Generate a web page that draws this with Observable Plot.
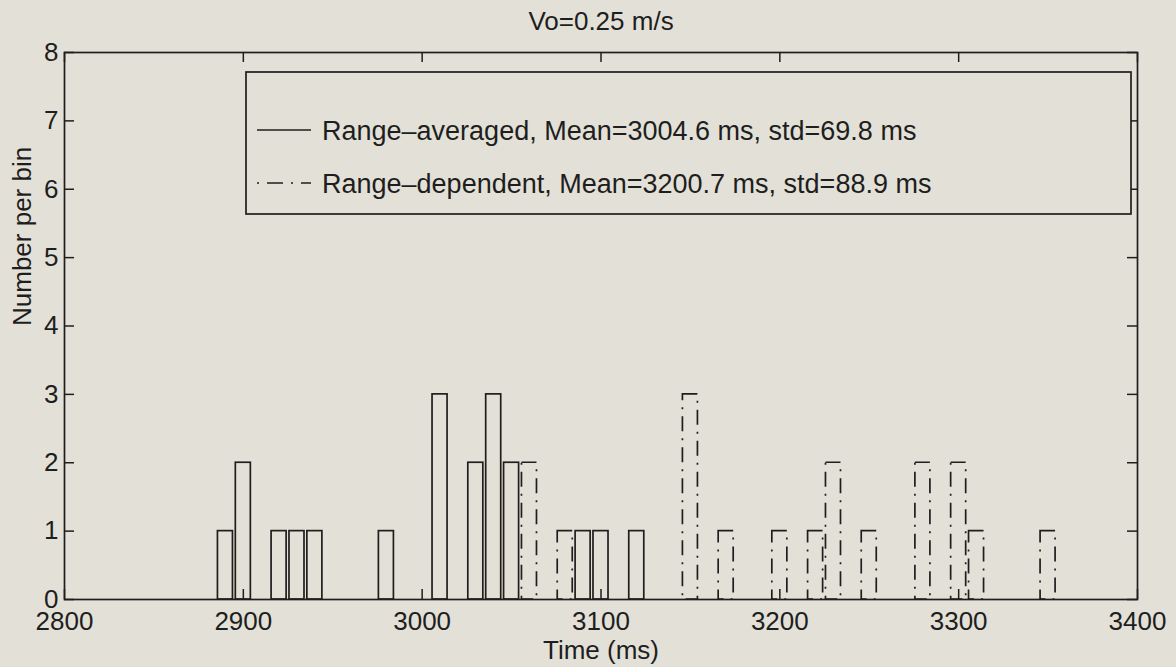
<!DOCTYPE html>
<html>
<head>
<meta charset="utf-8">
<script src="https://cdn.jsdelivr.net/npm/d3@7"></script>
<script src="https://cdn.jsdelivr.net/npm/@observablehq/plot@0.6"></script>
<style>
  html, body { margin: 0; padding: 0; background: #e3e1d7; }
  #chart { width: 1176px; height: 667px; overflow: hidden; }
</style>
</head>
<body>
<div id="chart"></div>
<script>
// ---- data ----
const titleText = "Vo=0.25 m/s";
const xLabel = "Time (ms)";
const yLabel = "Number per bin";
const xTicks = [2800, 2900, 3000, 3100, 3200, 3300, 3400];
const yTicks = [0, 1, 2, 3, 4, 5, 6, 7, 8];

// Range-averaged histogram (bin centre in ms, count)
const avgTimes  = [2890, 2900, 2920, 2930, 2940, 2980, 3010, 3030, 3040, 3050, 3090, 3100, 3120];
const avgCounts = [1,    2,    1,    1,    1,    1,    3,    2,    3,    2,    1,    1,    1];

// Range-dependent histogram
const depTimes  = [3060, 3080, 3150, 3170, 3200, 3220, 3230, 3250, 3280, 3300, 3310, 3350];
const depCounts = [2,    1,    3,    1,    1,    1,    2,    1,    2,    2,    1,    1];

const legendLabels = [
  "Range\u2013averaged, Mean=3004.6 ms, std=69.8 ms",
  "Range\u2013dependent, Mean=3200.7 ms, std=88.9 ms"
];

// ---- layout / style ----
const W = 1176, Hh = 667;
const mL = 64, mR = 39, mT = 52, mB = 68;
const frameW = W - mL - mR, frameH = Hh - mT - mB;
const tickLen = 10;
const halfBar = 4.2;
const ink = "#1e1e1e";
const bg = "#e3e1d7";
const dashDot = "15,7,2,7";
const fs = 26;
const font = "'Liberation Sans', Arial, Helvetica, sans-serif";

const avg = avgTimes.map((t, i) => ({t, n: avgCounts[i]}));
const dep = depTimes.map((t, i) => ({t, n: depCounts[i]}));

const plot = Plot.plot({
  width: W,
  height: Hh,
  marginLeft: mL, marginRight: mR, marginTop: mT, marginBottom: mB,
  style: {background: bg, fontFamily: font, fontSize: fs + "px", color: ink},
  x: {domain: [2800, 3400]},
  y: {domain: [0, 8]},
  marks: [
    Plot.rectY(avg, {x1: d => d.t - halfBar, x2: d => d.t + halfBar, y1: 0, y2: "n",
      fill: "none", stroke: ink, strokeWidth: 1.7}),
    Plot.rectY(dep, {x1: d => d.t - halfBar, x2: d => d.t + halfBar, y1: 0, y2: "n",
      fill: "none", stroke: ink, strokeWidth: 1.7, strokeDasharray: dashDot}),
    Plot.frame({stroke: ink, strokeWidth: 1.7}),
    // inward ticks on all four sides
    Plot.tickX(xTicks, {x: d => d, insetTop: frameH - tickLen, stroke: ink, strokeWidth: 1.5}),
    Plot.tickX(xTicks, {x: d => d, insetBottom: frameH - tickLen, stroke: ink, strokeWidth: 1.5}),
    Plot.tickY(yTicks, {y: d => d, insetRight: frameW - tickLen, stroke: ink, strokeWidth: 1.5}),
    Plot.tickY(yTicks, {y: d => d, insetLeft: frameW - tickLen, stroke: ink, strokeWidth: 1.5}),
    Plot.axisX({ticks: xTicks, tickSize: 0, tickPadding: 12, label: null, tickFormat: d => String(d), fontSize: fs}),
    Plot.axisY({ticks: yTicks, tickSize: 0, tickPadding: 6, label: null, tickFormat: d => String(d), fontSize: fs}),
    Plot.text([xLabel], {text: d => d, frameAnchor: "bottom", lineAnchor: "middle", dy: 51, fontSize: fs, fill: ink}),
    Plot.text([yLabel], {text: d => d, frameAnchor: "left", lineAnchor: "middle", rotate: -90, dx: -42, fontSize: fs, fill: ink}),
    Plot.text([titleText], {text: d => d, frameAnchor: "top", lineAnchor: "middle", dy: -31, fontSize: fs, fill: ink})
  ]
});

document.getElementById("chart").appendChild(plot);

// ---- legend box (drawn on the same SVG) ----
const svg = d3.select(plot);
const lg = svg.append("g")
  .attr("font-family", font).attr("font-size", 27)
  .attr("fill", ink).attr("text-anchor", "start");
const boxX = 246, boxY = 72, boxW = 885, boxH = 142;
lg.append("rect").attr("x", boxX).attr("y", boxY).attr("width", boxW).attr("height", boxH)
  .attr("fill", bg).attr("stroke", ink).attr("stroke-width", 1.7);
const rows = [130, 183];
const styles = [null, "2,8,16,8"];
legendLabels.forEach((lab, i) => {
  lg.append("line").attr("x1", 257).attr("x2", 311).attr("y1", rows[i]).attr("y2", rows[i])
    .attr("stroke", ink).attr("stroke-width", 1.7)
    .attr("stroke-dasharray", styles[i]);
  lg.append("text").attr("x", 322).attr("y", rows[i]).attr("dy", "0.36em")
    .attr("text-anchor", "start").text(lab);
});
</script>
</body>
</html>
